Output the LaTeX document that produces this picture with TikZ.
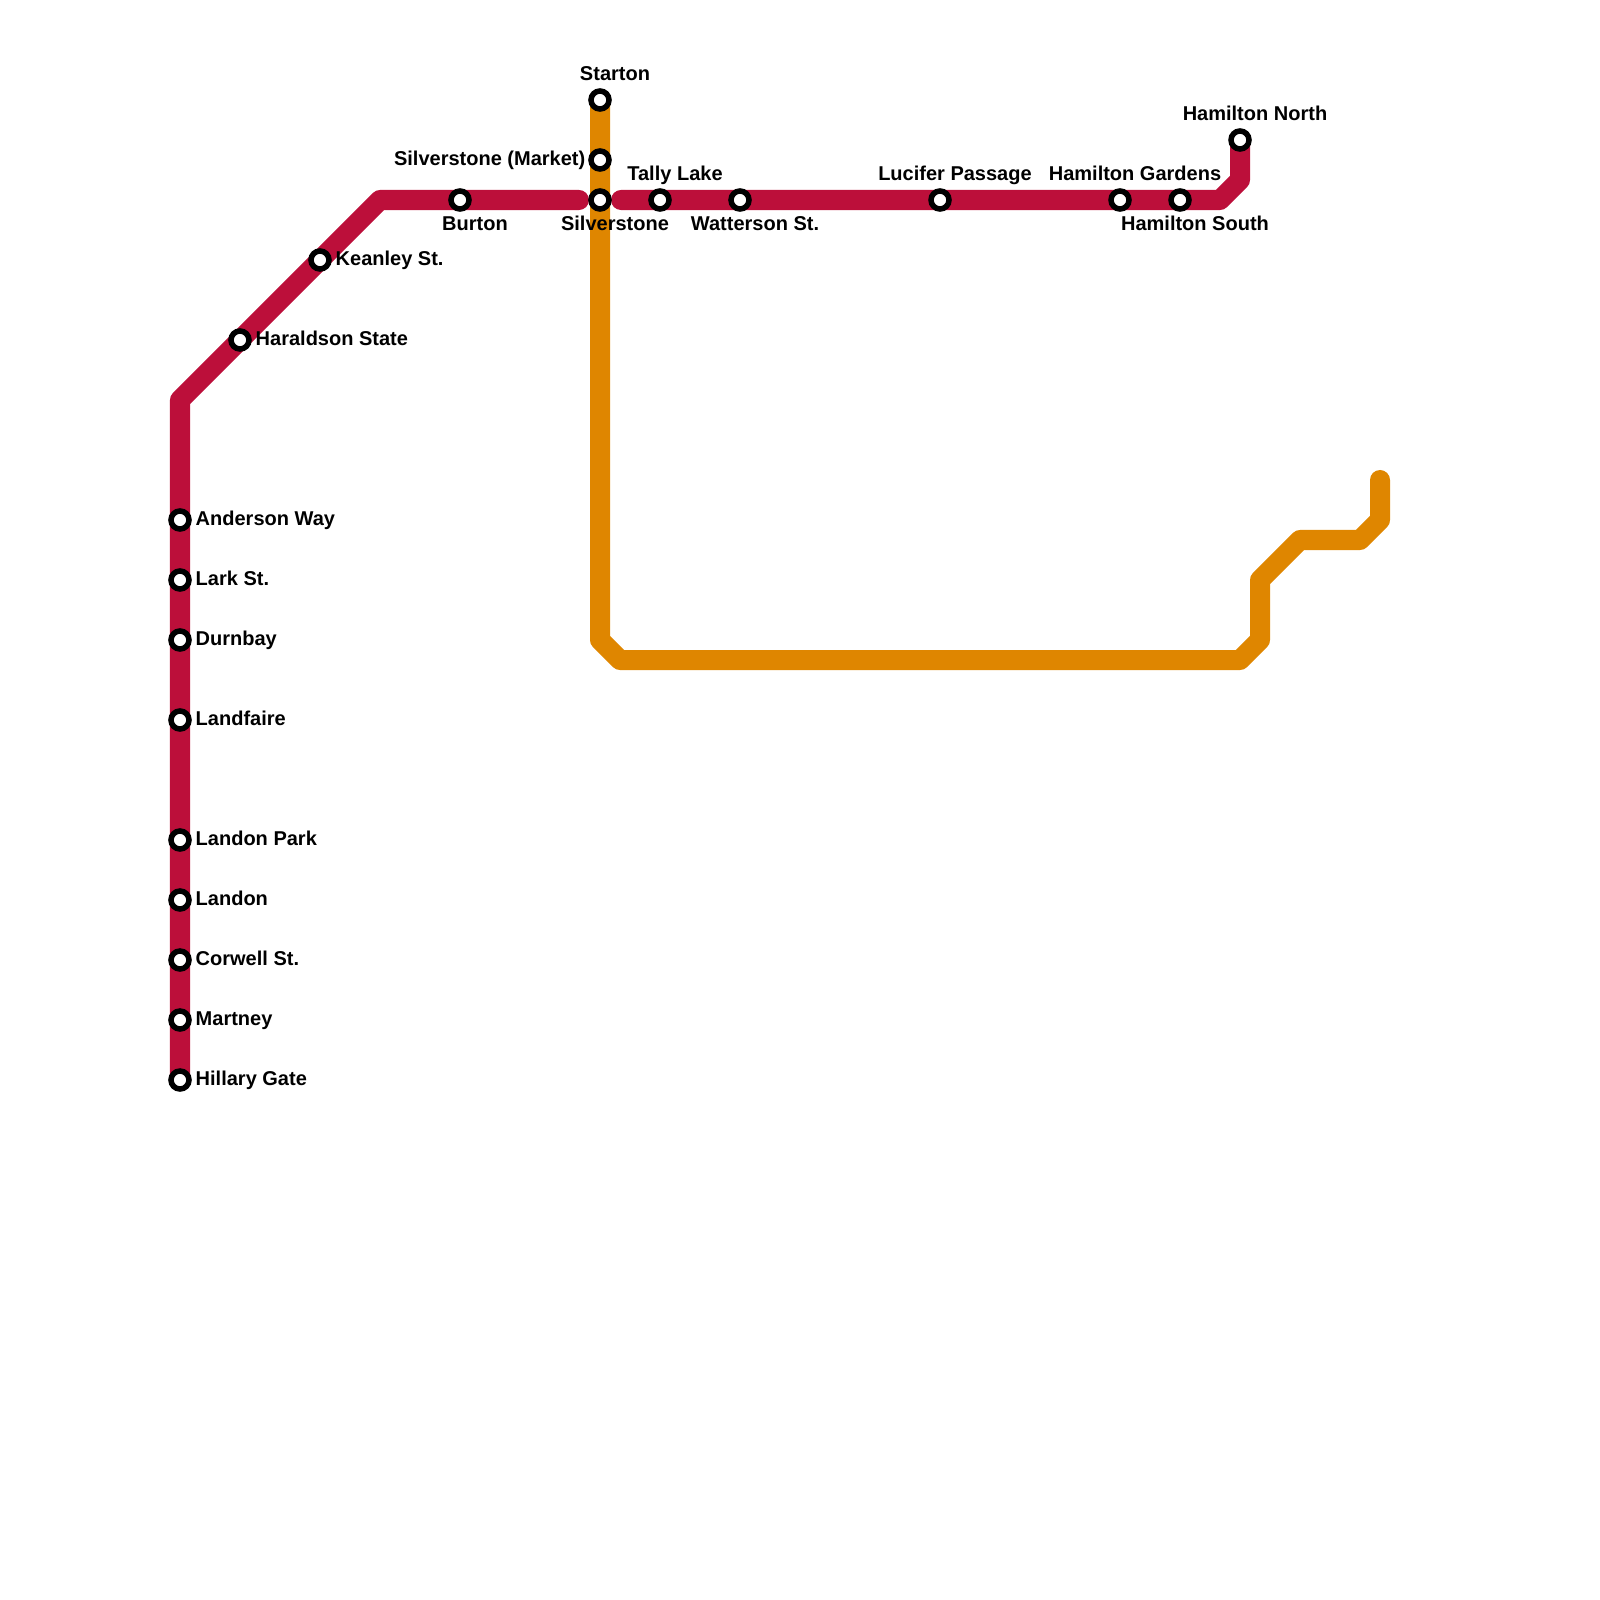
\documentclass[tikz,border=0pt]{standalone}
\usepackage{fontspec}
\setmainfont{Liberation Sans}
\usetikzlibrary{backgrounds}
\definecolor{lineRed}{HTML}{BC0F3A}
\definecolor{lineOrange}{HTML}{DF8600}
\begin{document}
\begin{tikzpicture}[x=0.01cm,y=-0.01cm]
    \tikzset{
        station/.style={draw=black, fill=white, circle, line width=0.55mm, minimum size=1.8mm, inner sep=0},
        stationlabel/.style={inner sep=0, font=\fontsize{5.69pt}{6.5pt}\selectfont\bfseries},
        redline/.style={draw=lineRed, line width=2mm, line cap=round, line join=round},
        orangeline/.style={draw=lineOrange, line width=2mm, line cap=round, line join=round}
    }
    \useasboundingbox (0,0) rectangle (1600,1600);
    % stations with the label on the right
    \foreach \n/\x/\y/\t in {%
        anderson/180/520/Anderson Way,lark/180/580/Lark St.,durnbay/180/640/Durnbay,%
        landfaire/180/720/Landfaire,landonpark/180/840/Landon Park,landon/180/900/Landon,%
        corwell/180/960/Corwell St.,martney/180/1020/Martney,hillary/180/1080/Hillary Gate,%
        haraldson/240/340/Haraldson State,keanley/320/260/Keanley St.%
    }
    {
        \node[station] (\n) at (\x,\y) {};
        \node[stationlabel, anchor=base west] (\n label) at (\x+15,\y+5) {\t};
    }
    % stations with the label above
    \foreach \n/\x/\y/\t in {%
        starton/600/100/Starton,tally/660/200/Tally Lake,lucifer/940/200/Lucifer Passage,%
        hamgardens/1120/200/Hamilton Gardens,hamnorth/1240/140/Hamilton North%
    }
    {
        \node[station] (\n) at (\x,\y) {};
        \node[stationlabel, anchor=base] (\n label) at (\x+15,\y-19.5) {\t};
    }
    % stations with the label below
    \foreach \n/\x/\y/\t in {%
        burton/460/200/Burton,silverstone/600/200/Silverstone,%
        watterson/740/200/Watterson St.,hamsouth/1180/200/Hamilton South%
    }
    {
        \node[station] (\n) at (\x,\y) {};
        \node[stationlabel, anchor=base] (\n label) at (\x+15,\y+30) {\t};
    }
    \node[station] (market) at (600,160) {};
    \node[stationlabel, anchor=base east] (market label) at (586,165.5) {Silverstone (Market)};

    \coordinate (r1) at (180,400);
    \coordinate (r2) at (380,200);
    \coordinate (r3) at (579,200);
    \coordinate (r4) at (621,200);
    \coordinate (r5) at (1220,200);
    \coordinate (r6) at (1240,180);
    \coordinate (o1) at (600,640);
    \coordinate (o2) at (620,660);
    \coordinate (o3) at (1240,660);
    \coordinate (o4) at (1260,640);
    \coordinate (o5) at (1260,580);
    \coordinate (o6) at (1300,540);
    \coordinate (o7) at (1360,540);
    \coordinate (o8) at (1380,520);
    \coordinate (o9) at (1380,480);

    \begin{scope}[on background layer]
        \draw[redline] (hillary.center) -- (r1) -- (r2) -- (r3);
        \draw[redline] (r4) -- (r5) -- (r6) -- (hamnorth.center);
        \draw[orangeline] (starton.center) -- (o1) -- (o2) -- (o3) -- (o4) -- (o5) -- (o6) -- (o7) -- (o8) -- (o9);
    \end{scope}
\end{tikzpicture}
\end{document}
